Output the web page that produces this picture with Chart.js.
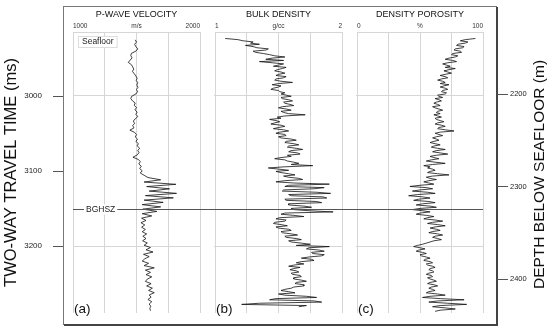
<!DOCTYPE html>
<html>
<head>
<meta charset="utf-8">
<title>Well log</title>
<script src="https://cdn.jsdelivr.net/npm/chart.js@4.4.1/dist/chart.umd.min.js"></script>
<style>
  html, body { margin: 0; padding: 0; background: #fff; }
  #wrap { width: 550px; height: 330px; }
</style>
</head>
<body>
<div id="wrap"><canvas id="logChart" width="550" height="330"></canvas></div>
<script>
// P-wave velocity log, sampled in two-way travel time (ms)
const velTwt = [
  2926,2929,2932,2935,2938,2941,2944,2947,2950,2953,2956,2959,2962,2965,2968,2971,2974,2977,2980,2983,
  2986,2989,2992,2995,2998,3001,3004,3007,3010,3013,3016,3019,3022,3025,3028,3031,3034,3037,3040,3043,
  3046,3049,3052,3055,3058,3061,3064,3067,3070,3073,3076,3079,3082,3085,3088,3091,3094,3097,3100,3103,
  3106,3109,3112,3115,3118,3121,3124,3127,3130,3133,3136,3139,3142,3145,3148,3151,3154,3157,3160,3163,
  3166,3169,3172,3175,3178,3181,3184,3187,3190,3193,3196,3199,3202,3205,3208,3211,3214,3217,3220,3223,
  3226,3229,3232,3235,3238,3241,3244,3247,3250,3253,3256,3259,3262,3265,3268,3271,3274,3277,3280,3283,
  3286
];
const velMs = [
  1490,1500,1485,1495,1510,1495,1460,1455,1465,1450,
  1435,1460,1470,1478,1468,1482,1495,1505,1498,1510,
  1502,1512,1500,1508,1495,1462,1455,1468,1490,1482,
  1500,1488,1505,1495,1510,1490,1475,1485,1470,1480,
  1448,1485,1500,1490,1508,1495,1515,1505,1525,1510,
  1520,1505,1472,1515,1530,1518,1538,1525,1545,1530,
  1560,1590,1690,1560,1810,1580,1760,1600,1815,1570,
  1790,1560,1710,1545,1690,1550,1660,1545,1620,1540,
  1575,1535,1565,1540,1570,1545,1580,1550,1575,1548,
  1585,1560,1610,1575,1630,1555,1600,1565,1545,1595,
  1560,1640,1570,1610,1575,1620,1585,1570,1615,1580,
  1625,1595,1640,1600,1615,1590,1620,1600,1612,1605,
  1610
];

// density logs, sampled in depth below seafloor (m)
const logDepth = [
  2140,2141.25,2142.5,2143.75,2145,2146.25,2147.5,2148.75,
  2150,2151.25,2152.5,2153.75,2155,2156.25,2157.5,2158.75,
  2160,2161.25,2162.5,2163.75,2165,2166.25,2167.5,2168.75,
  2170,2171.25,2172.5,2173.75,2175,2176.25,2177.5,2178.75,
  2180,2181.25,2182.5,2183.75,2185,2186.25,2187.5,2188.75,
  2190,2191.25,2192.5,2193.75,2195,2196.25,2197.5,2198.75,
  2200,2201.25,2202.5,2203.75,2205,2206.25,2207.5,2208.75,
  2210,2211.25,2212.5,2213.75,2215,2216.25,2217.5,2218.75,
  2220,2221.25,2222.5,2223.75,2225,2226.25,2227.5,2228.75,
  2230,2231.25,2232.5,2233.75,2235,2236.25,2237.5,2238.75,
  2240,2241.25,2242.5,2243.75,2245,2246.25,2247.5,2248.75,
  2250,2251.25,2252.5,2253.75,2255,2256.25,2257.5,2258.75,
  2260,2261.25,2262.5,2263.75,2265,2266.25,2267.5,2268.75,
  2270,2271.25,2272.5,2273.75,2275,2276.25,2277.5,2278.75,
  2280,2281.25,2282.5,2283.75,2285,2286.25,2287.5,2288.75,
  2290,2291.25,2292.5,2293.75,2295,2296.25,2297.5,2298.75,
  2300,2301.25,2302.5,2303.75,2305,2306.25,2307.5,2308.75,
  2310,2311.25,2312.5,2313.75,2315,2316.25,2317.5,2318.75,
  2320,2321.25,2322.5,2323.75,2325,2326.25,2327.5,2328.75,
  2330,2331.25,2332.5,2333.75,2335,2336.25,2337.5,2338.75,
  2340,2341.25,2342.5,2343.75,2345,2346.25,2347.5,2348.75,
  2350,2351.25,2352.5,2353.75,2355,2356.25,2357.5,2358.75,
  2360,2361.25,2362.5,2363.75,2365,2366.25,2367.5,2368.75,
  2370,2371.25,2372.5,2373.75,2375,2376.25,2377.5,2378.75,
  2380,2381.25,2382.5,2383.75,2385,2386.25,2387.5,2388.75,
  2390,2391.25,2392.5,2393.75,2395,2396.25,2397.5,2398.75,
  2400,2401.25,2402.5,2403.75,2405,2406.25,2407.5,2408.75,
  2410,2411.25,2412.5,2413.75,2415,2416.25,2417.5,2418.75,
  2420,2421.25,2422.5,2423.75,2425,2426.25,2427.5,2428.75,
  2430,2431.25,2432.5,2433.75,2435
];
const bulkDensity = [
  1.08,1.18,1.22,1.30,1.28,1.35,1.24,1.30,
  1.33,1.42,1.40,1.30,1.32,1.38,1.43,1.47,
  1.55,1.45,1.40,1.54,1.35,1.45,1.54,1.50,
  1.46,1.56,1.53,1.49,1.47,1.52,1.55,1.50,
  1.48,1.56,1.54,1.48,1.47,1.52,1.61,1.50,
  1.45,1.52,1.50,1.46,1.44,1.50,1.51,1.55,
  1.52,1.56,1.60,1.52,1.53,1.58,1.61,1.54,
  1.55,1.59,1.62,1.53,1.50,1.56,1.60,1.52,
  1.54,1.58,1.71,1.55,1.49,1.52,1.43,1.48,
  1.51,1.47,1.44,1.52,1.55,1.50,1.46,1.54,
  1.58,1.51,1.48,1.55,1.56,1.50,1.52,1.60,
  1.64,1.56,1.55,1.62,1.66,1.58,1.57,1.64,
  1.69,1.60,1.58,1.65,1.67,1.57,1.60,1.52,
  1.47,1.55,1.57,1.62,1.66,1.60,1.77,1.55,
  1.42,1.50,1.58,1.48,1.52,1.58,1.63,1.54,
  1.58,1.66,1.69,1.55,1.48,1.62,1.90,1.58,
  1.55,1.86,1.78,1.54,1.53,1.80,1.91,1.58,
  1.60,1.85,1.88,1.55,1.56,1.80,1.84,1.58,
  1.58,1.70,1.76,1.60,1.62,1.74,1.93,1.55,
  1.52,1.62,1.70,1.51,1.48,1.56,1.55,1.47,
  1.46,1.52,1.57,1.48,1.50,1.58,1.60,1.52,
  1.53,1.60,1.65,1.55,1.56,1.64,1.68,1.58,
  1.60,1.68,1.75,1.64,1.90,1.74,1.72,1.82,
  1.86,1.76,1.77,1.86,1.84,1.74,1.68,1.76,
  1.78,1.68,1.64,1.70,1.62,1.58,1.67,1.62,
  1.59,1.64,1.66,1.60,1.61,1.67,1.68,1.62,
  1.62,1.68,1.72,1.64,1.63,1.70,1.70,1.62,
  1.60,1.55,1.52,1.58,1.63,1.50,1.55,1.72,
  1.80,1.48,1.43,1.78,1.84,1.35,1.21,1.72,
  1.66
];
const densityPorosity = [
  94,86,82,88,86,80,79,85,
  84,78,77,82,83,76,75,80,
  78,73,70,76,79,72,68,71,
  74,70,78,73,69,72,75,70,
  66,70,72,67,64,68,70,66,
  73,69,66,70,72,68,67,71,
  70,64,65,68,62,65,67,63,
  61,64,66,60,62,65,68,64,
  63,66,61,64,67,62,63,66,
  69,64,62,67,70,65,64,70,
  77,66,62,65,68,63,60,63,
  65,61,58,62,66,61,59,64,
  70,63,60,66,72,63,58,61,
  65,59,55,62,70,60,53,58,
  56,60,62,58,56,64,73,60,
  55,58,63,57,53,57,61,50,
  42,55,60,50,44,56,62,48,
  41,52,58,49,45,57,62,52,
  47,58,63,50,44,52,58,50,
  47,55,61,56,53,62,68,60,
  56,64,70,62,58,63,66,60,
  57,64,68,62,60,64,67,61,
  58,55,52,48,45,50,54,49,
  47,52,55,50,51,55,58,54,
  53,58,60,55,56,60,62,58,
  57,60,61,57,55,59,60,56,
  58,61,63,58,56,61,64,59,
  57,60,62,57,55,64,70,58,
  52,66,85,64,57,72,87,66,
  60,70,78,66,62
];

// axis ticks and labels
const twtTicks = [3000, 3100, 3200];
const twtGridTicks = [3000, 3200];
const depthTicks = [2200, 2300, 2400];
const velTickLabels = ['1000', '', 'm/s', '', '2000'];
const denTickLabels = ['1', '', 'g/cc', '', '2'];
const porTickLabels = ['0', '', '%', '', '100'];

const bghszTwt = 3151;
const gridColor = '#d6d6d6';
const fontFamily = '"Liberation Sans", Arial, Helvetica, sans-serif';

Chart.defaults.font.family = fontFamily;
Chart.defaults.color = '#222';

function toPoints(values, depths) {
    return values.map((v, i) => ({ x: v, y: depths[i] }));
}

function trackAxis(order, weight, min, max, step, title, labels) {
    return {
        type: 'linear', position: 'top', stack: 'tracks', stackWeight: weight, weight: order,
        min: min, max: max,
        ticks: {
            stepSize: step, align: 'inner', maxRotation: 0, autoSkip: false, padding: 2,
            font: { size: 6.5 }, color: '#333',
            callback: (v, i) => labels[i]
        },
        grid: { color: gridColor, drawTicks: false, lineWidth: 1 },
        border: { display: true, color: gridColor },
        title: { display: true, text: title, font: { size: 9 }, color: '#111', padding: { top: 9, bottom: 0 } },
        afterFit: s => { s.height = 32; }
    };
}

function gapAxis(order, weight) {
    return {
        type: 'linear', position: 'top', stack: 'tracks', stackWeight: weight, weight: order,
        ticks: { display: false }, grid: { display: false }, border: { display: false },
        afterFit: s => { s.height = 32; }
    };
}

const wellLogDecor = {
    id: 'wellLogDecor',
    beforeDatasetsDraw(chart) {
        // no grid between the tracks
        const { ctx, chartArea } = chart;
        ctx.save();
        ctx.fillStyle = '#ffffff';
        ['gap1', 'gap2'].forEach(id => {
            const s = chart.scales[id];
            ctx.fillRect(s.left + 1, chartArea.top - 1, s.width - 2, chartArea.height + 2);
        });
        ctx.restore();
    },
    afterDatasetsDraw(chart) {
        const { ctx, chartArea, scales } = chart;
        ctx.save();
        const yb = Math.round(scales.y.getPixelForValue(bghszTwt)) + 0.5;
        ctx.strokeStyle = '#555';
        ctx.lineWidth = 1;
        ctx.beginPath();
        ctx.moveTo(chartArea.left, yb);
        ctx.lineTo(chartArea.right, yb);
        ctx.stroke();

        ctx.font = '8.5px ' + fontFamily;
        ctx.textBaseline = 'middle';
        ctx.textAlign = 'left';
        const bx = scales.xa.left + 13;
        const bw = ctx.measureText('BGHSZ').width;
        ctx.fillStyle = '#fff';
        ctx.fillRect(bx - 2, yb - 5, bw + 4, 10);
        ctx.fillStyle = '#222';
        ctx.fillText('BGHSZ', bx, yb);

        // seafloor tag
        const sx = scales.xa.left + 6;
        const sy = chartArea.top + 10;
        const sw = ctx.measureText('Seafloor').width;
        ctx.fillStyle = '#fff';
        ctx.fillRect(sx - 0.5, sy - 5.5, sw + 7, 11);
        ctx.strokeStyle = '#dddddd';
        ctx.strokeRect(sx - 0.5, sy - 5.5, sw + 7, 11);
        ctx.fillStyle = '#222';
        ctx.fillText('Seafloor', sx + 3, sy);

        ctx.font = '13.5px ' + fontFamily;
        ctx.fillStyle = '#111';
        [['xa', '(a)'], ['xb', '(b)'], ['xc', '(c)']].forEach(([id, t]) => {
            ctx.fillText(t, scales[id].left + 1, chartArea.bottom - 4);
        });
        ctx.restore();
    },
    afterDraw(chart) {
        const { ctx, chartArea, scales } = chart;
        const fl = chartArea.left - 10, fr = chartArea.right + 13;
        const ft = 6, fb = chartArea.bottom + 11;
        ctx.save();
        ctx.strokeStyle = '#777';
        ctx.lineWidth = 1;
        ctx.strokeRect(fl + 0.5, ft + 0.5, fr - fl, fb - ft);
        ctx.strokeStyle = '#444';
        ctx.lineWidth = 2;
        ctx.beginPath();
        ctx.moveTo(fr + 1, ft + 1);
        ctx.lineTo(fr + 1, fb + 1);
        ctx.lineTo(fl + 1, fb + 1);
        ctx.stroke();

        // tick marks outside the frame
        ctx.strokeStyle = '#555';
        ctx.lineWidth = 1;
        ctx.beginPath();
        scales.y.ticks.forEach(t => {
            const p = Math.round(scales.y.getPixelForValue(t.value)) + 0.5;
            ctx.moveTo(fl - 10, p);
            ctx.lineTo(fl, p);
        });
        scales.yd.ticks.forEach(t => {
            const p = Math.round(scales.yd.getPixelForValue(t.value)) + 0.5;
            ctx.moveTo(fr + 1, p);
            ctx.lineTo(fr + 12, p);
        });
        ctx.stroke();

        // right axis title reads bottom to top
        ctx.translate(540, (chartArea.top + chartArea.bottom) / 2 + 2);
        ctx.rotate(-Math.PI / 2);
        ctx.font = '15.5px ' + fontFamily;
        ctx.fillStyle = '#111';
        ctx.textAlign = 'center';
        ctx.textBaseline = 'middle';
        ctx.fillText('DEPTH BELOW SEAFLOOR (m)', 0, 0);
        ctx.restore();
    }
};

const lineStyle = { borderColor: '#111', borderWidth: 0.8, pointRadius: 0, tension: 0, fill: false };

new Chart(document.getElementById('logChart'), {
    type: 'line',
    data: {
        datasets: [
            { label: 'P-wave velocity', data: toPoints(velMs, velTwt), xAxisID: 'xa', yAxisID: 'y', ...lineStyle },
            { label: 'Bulk density', data: toPoints(bulkDensity, logDepth), xAxisID: 'xb', yAxisID: 'yd', ...lineStyle },
            { label: 'Density porosity', data: toPoints(densityPorosity, logDepth), xAxisID: 'xc', yAxisID: 'yd', ...lineStyle }
        ]
    },
    options: {
        responsive: false,
        devicePixelRatio: 1,
        animation: false,
        layout: { padding: { left: 0, right: 0, top: 0, bottom: 17 } },
        plugins: { legend: { display: false }, tooltip: { enabled: false } },
        scales: {
            xa: trackAxis(5, 127, 1000, 2000, 250, 'P-WAVE VELOCITY', velTickLabels),
            gap1: gapAxis(4, 15),
            xb: trackAxis(3, 127, 1, 2, 0.25, 'BULK DENSITY', denTickLabels),
            gap2: gapAxis(2, 15),
            xc: trackAxis(1, 126, 0, 100, 25, 'DENSITY POROSITY', porTickLabels),
            y: {
                type: 'linear', position: 'left', reverse: true, min: 2915.6, max: 3289,
                afterBuildTicks: s => { s.ticks = twtTicks.map(v => ({ value: v })); },
                ticks: { padding: 2, font: { size: 8 }, color: '#222', callback: v => String(v) },
                grid: {
                    drawTicks: true, tickLength: 29, tickColor: 'rgba(0,0,0,0)',
                    color: c => (c.tick && twtGridTicks.includes(c.tick.value)) ? gridColor : 'rgba(0,0,0,0)'
                },
                border: { display: false },
                title: { display: true, text: 'TWO-WAY TRAVEL TIME (ms)', font: { size: 16.5 }, color: '#111', padding: { top: 2, bottom: 0 } },
                afterFit: s => { s.width = 73; }
            },
            yd: {
                type: 'linear', position: 'right', reverse: true, min: 2133, max: 2436.8,
                afterBuildTicks: s => { s.ticks = depthTicks.map(v => ({ value: v })); },
                ticks: { padding: 2, font: { size: 7.5 }, color: '#222', callback: v => String(v) },
                grid: { drawOnChartArea: false, drawTicks: true, tickLength: 25, tickColor: 'rgba(0,0,0,0)' },
                border: { display: false },
                afterFit: s => { s.width = 67; }
            }
        }
    },
    plugins: [wellLogDecor]
});
</script>
</body>
</html>
